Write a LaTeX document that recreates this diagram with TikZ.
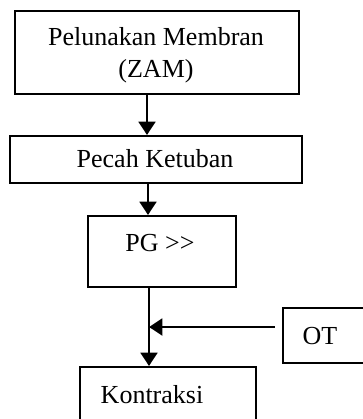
\documentclass[tikz,border=0pt]{standalone}
\usepackage{fontspec}
\setmainfont{Liberation Serif}
\usetikzlibrary{arrows.meta}
\begin{document}
\begin{tikzpicture}[x=0.75pt,y=-0.75pt,
  box/.style={draw, line width=1.6pt, inner sep=0pt, anchor=north west},
  txt/.style={font=\fontsize{19.5pt}{24pt}\selectfont, inner sep=0pt, align=center},
  arr/.style={line width=2.2pt, -{Triangle[width=12.5pt,length=10pt]}}]
  \useasboundingbox (0,0) rectangle (363,419);
  \clip (0,0) rectangle (363,419);
  % boxes
  \node[box, minimum width=213pt, minimum height=62.25pt] (zam) at (14,10) {};
  \node[txt] (zamtxt) at (156,55) {Pelunakan Membran\\(ZAM)};
  \node[box, minimum width=219pt, minimum height=35.25pt] (pk) at (9,135) {};
  \node[txt] (pktxt) at (155,159) {Pecah Ketuban};
  \node[box, minimum width=111pt, minimum height=53.25pt] (pg) at (87,215) {};
  \node[txt] (pgtxt) at (160,243) {PG >{}>};
  \node[box, minimum width=80pt, minimum height=41.25pt] (ot) at (282,307) {};
  \node[txt] (ottxt) at (320,336) {OT};
  \node[box, minimum width=132pt, minimum height=60pt] (kon) at (79,366) {};
  \node[txt] (kontxt) at (152,395) {Kontraksi};
  % connectors
  \coordinate (a1) at (147,0);
  \coordinate (a2) at (148,0);
  \coordinate (a3) at (149,0);
  \coordinate (otstart) at (275,327);
  \coordinate (join) at (149,327);
  \draw[arr] (zam.south -| a1) -- (pk.north -| a1);
  \draw[arr] (pk.south -| a2) -- (pg.north -| a2);
  \draw[arr] (pg.south -| a3) -- (kon.north -| a3);
  \draw[arr] (otstart) -- (join);
\end{tikzpicture}
\end{document}
